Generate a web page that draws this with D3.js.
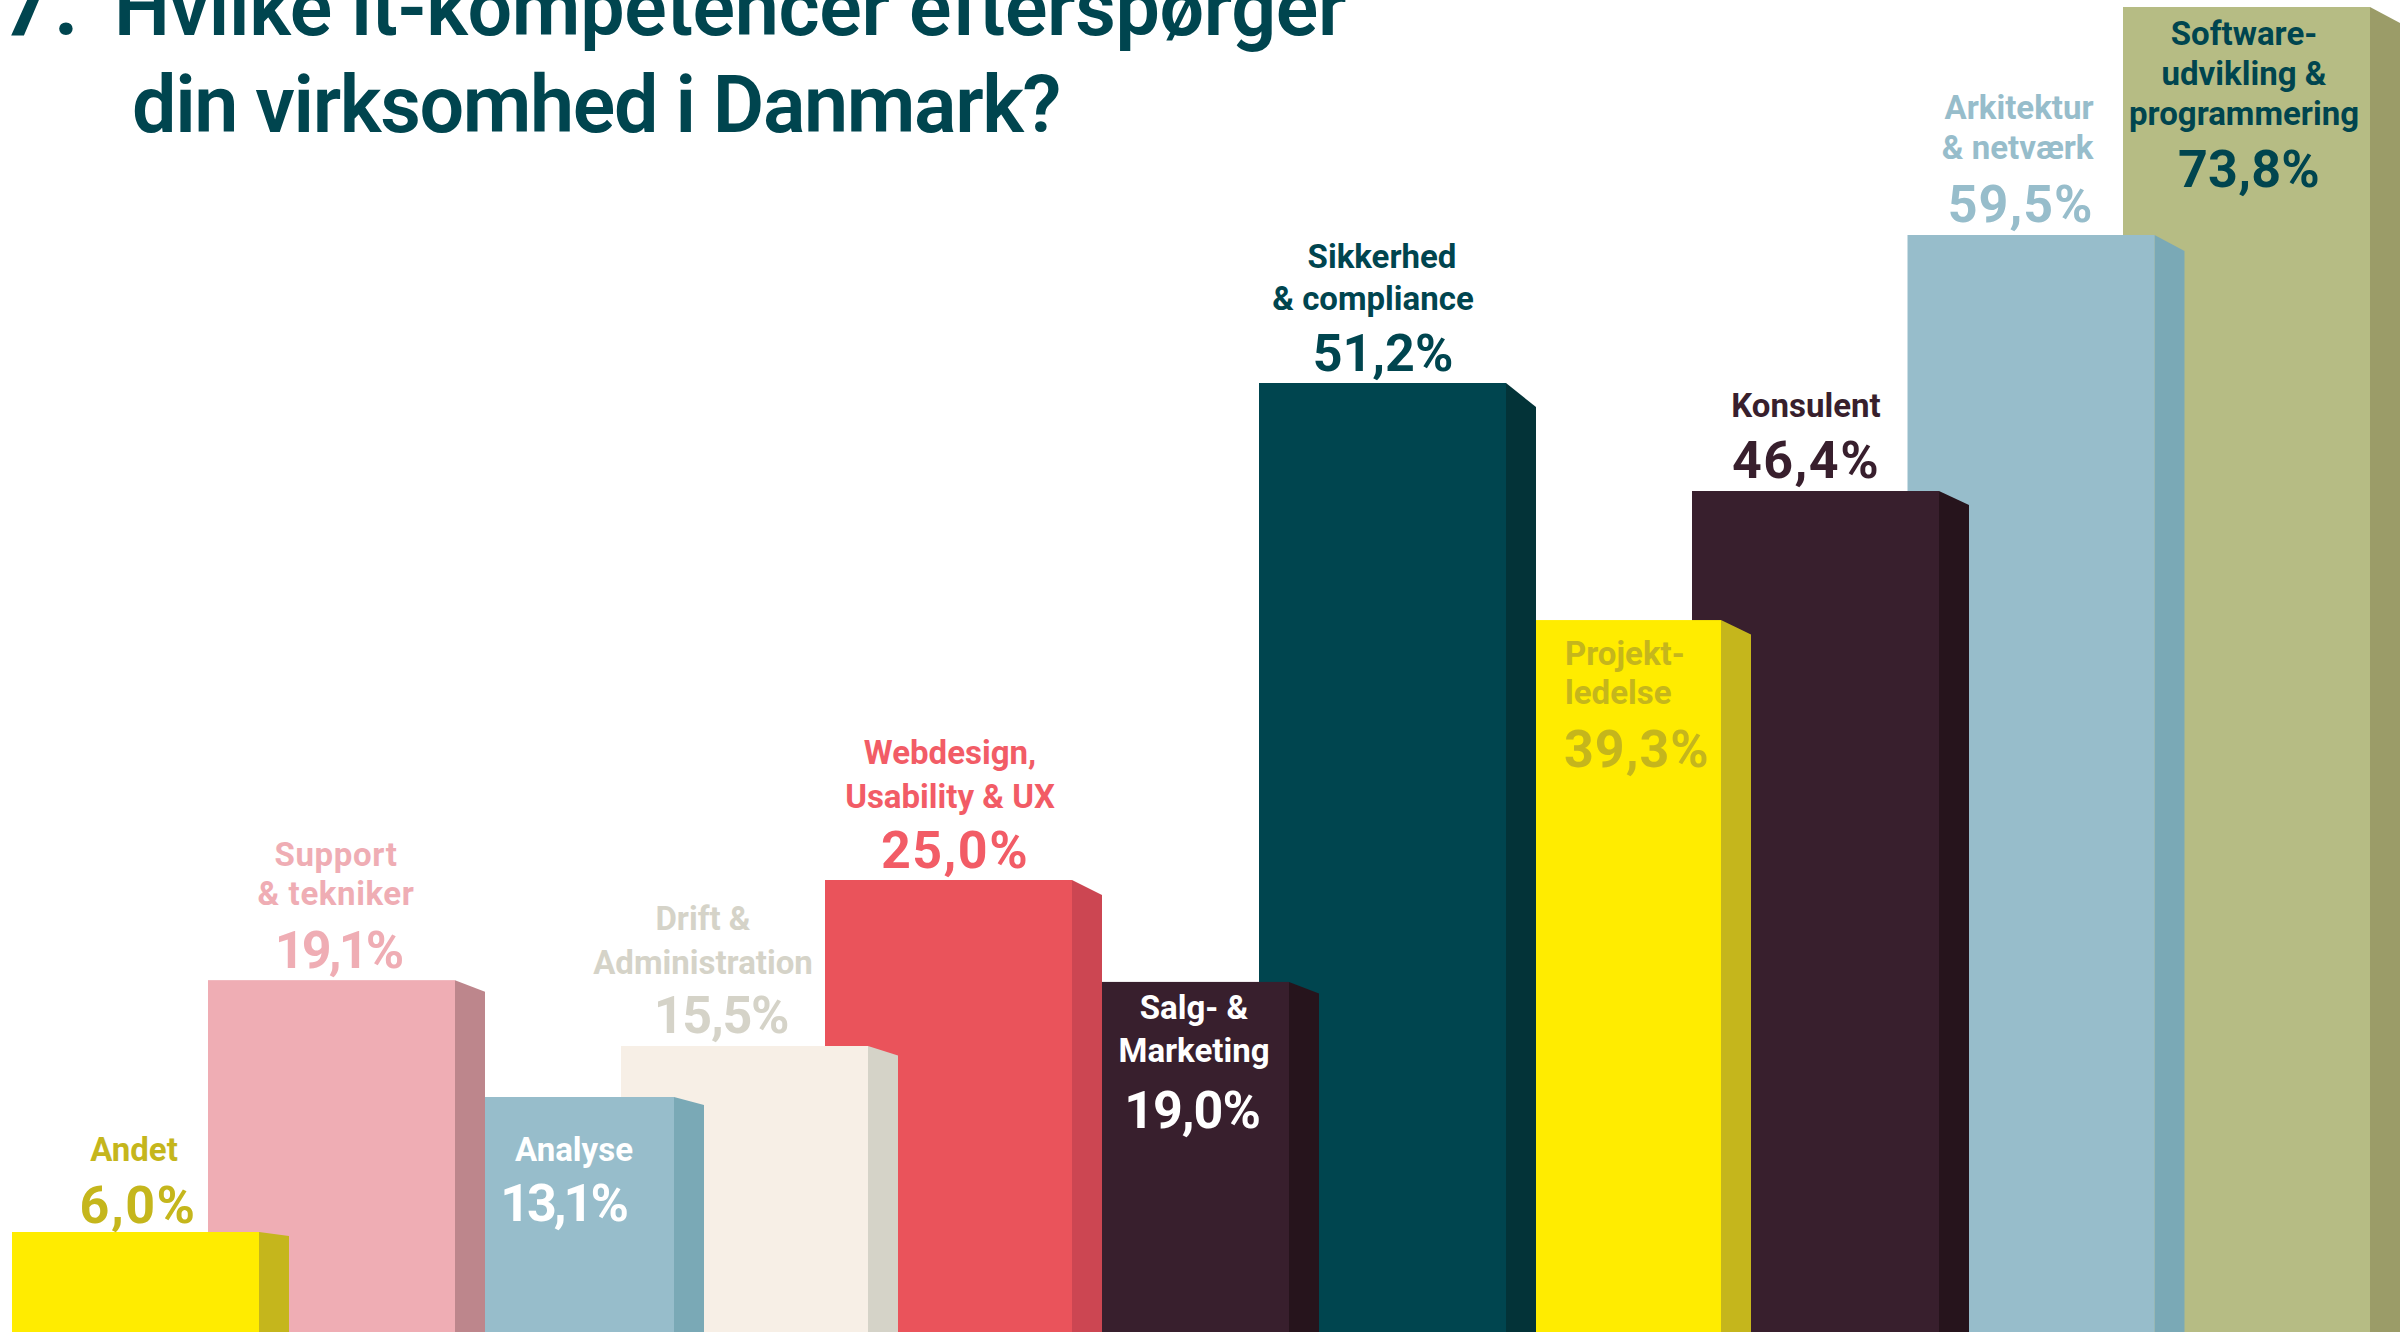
<!DOCTYPE html>
<html>
<head>
    <title>Hvilke it-kompetencer</title>
    <meta charset="utf-8">
    <script src="https://d3js.org/d3.v7.min.js"></script>
    <style>
        body { margin: 0; background: #fff; }
        svg { display: block; }
        text { font-family: Roboto, sans-serif; }
    </style>
</head>
<body>

    <div id="chart"></div>

    <script>

        // data, left to right
        var categories = ["Andet", "Support & tekniker", "Analyse", "Drift & Administration", "Webdesign, Usability & UX",
            "Salg- & Marketing", "Sikkerhed & compliance", "Projektledelse", "Konsulent", "Arkitektur & netværk",
            "Softwareudvikling & programmering"];
        var values = [6.0, 19.1, 13.1, 15.5, 25.0, 19.0, 51.2, 39.3, 46.4, 59.5, 73.8];
        var labelLines = [
            ["Andet"],
            ["Support", "& tekniker"],
            ["Analyse"],
            ["Drift &", "Administration"],
            ["Webdesign,", "Usability & UX"],
            ["Salg- &", "Marketing"],
            ["Sikkerhed", "& compliance"],
            ["Projekt-", "ledelse"],
            ["Konsulent"],
            ["Arkitektur", "& netværk"],
            ["Software-", "udvikling &", "programmering"]
        ];
        var titleNumber = "7.";
        var titleLines = ["Hvilke it-kompetencer efterspørger", "din virksomhed i Danmark?"];

        // colours
        var frontColors = ["#ffec00", "#efadb4", "#97bdcb", "#f7efe6", "#ea535b", "#381f2d", "#00454f", "#ffec00", "#381f2d", "#97bdcb", "#b6bc84"];
        var sideColors = ["#c5b61c", "#bd868c", "#7aa9b6", "#d5d3c8", "#cc4652", "#26141c", "#033338", "#c5b61c", "#26141c", "#7aa9b6", "#9b9c68"];
        var textColors = ["#c5b61c", "#efadb4", "#ffffff", "#d5d3c8", "#f25c66", "#ffffff", "#00454f", "#c5b61c", "#381f2d", "#97bdcb", "#00454f"];
        var titleColor = "#00454f";

        var width = 2407,
            height = 1332,
            barWidth = 247,
            barDepth = 30;

        var svg = d3.select("#chart")
            .append("svg")
            .attr("width", width)
            .attr("height", height);

        // bars overlap and are not evenly spaced at the left
        var x = d3.scaleLinear()
            .domain([0, 1, 2, 3, 4, 5, 6, 7, 8, 10])
            .range([12, 208, 427, 621, 825, 1042, 1259, 1474, 1692, 2123]);

        // the heights in the original are not proportional to the values, so this is piecewise
        var y = d3.scaleLinear()
            .domain([0, 6, 13.1, 15.5, 19.05, 25, 46.4, 51.2, 59.5, 73.8])
            .range([1346, 1232, 1097, 1046, 981, 880, 491, 383, 235, 7]);

        // how far the top of the side face drops
        var drop = d3.scaleLinear()
            .domain([6, 25, 46.4, 51.2, 59.5, 73.8])
            .range([4, 15, 14, 24, 16, 16]);

        var line = d3.line();

        var bars = values.map(function (v, i) {
            return { name: categories[i], value: v, index: i };
        });

        // later bars stand behind earlier ones, so draw them first
        var bar = svg.selectAll("g.bar")
            .data(bars.slice().reverse())
            .enter()
            .append("g")
            .attr("class", "bar");

        bar.append("path")
            .attr("fill", function (d) { return sideColors[d.index]; })
            .attr("d", function (d) {
                var x1 = x(d.index) + barWidth;
                var top = y(d.value);
                return line([[x1, top], [x1 + barDepth, top + drop(d.value)], [x1 + barDepth, y(0)], [x1, y(0)]]) + "Z";
            });

        bar.append("rect")
            .attr("fill", function (d) { return frontColors[d.index]; })
            .attr("x", function (d) { return x(d.index); })
            .attr("y", function (d) { return y(d.value); })
            .attr("width", barWidth)
            .attr("height", function (d) { return y(0) - y(d.value); });

        // text placement relative to each bar: line x, value x, first baseline, line step, value baseline, spacing
        var labelPos = [
            { lx: 122, vx: 126, ly: -71, step: 0, vy: -9, ls: 0, vs: 1.5, anchor: "middle" },
            { lx: 128, vx: 130, ly: -114, step: 39, vy: -12, ls: 0.6, vs: -2.8, anchor: "middle" },
            { lx: 147, vx: 136, ly: 64, step: 0, vy: 124, ls: 0, vs: -3, anchor: "middle" },
            { lx: 82, vx: 100, ly: -116, step: 44, vy: -13, ls: 0, vs: -1.2, anchor: "middle" },
            { lx: 125, vx: 130, ly: -116, step: 44, vy: -12, ls: 0, vs: 1.5, anchor: "middle" },
            { lx: 152, vx: 150, ly: 37, step: 43, vy: 146, ls: 0, vs: -1, anchor: "middle" },
            { lx: 114, vx: 124, ly: -115, step: 42, first: 9, vy: -12, ls: 0, vs: 0, anchor: "middle" },
            { lx: 91, vx: 90, ly: 45, step: 39, vy: 147, ls: 0, vs: 1, anchor: "start" },
            { lx: 114, vx: 114, ly: -74, step: 0, vy: -13, ls: 0, vs: 1.5, anchor: "middle" },
            { lx: 186, vx: 186, ly: -116, step: 40, vy: -13, ls: 0, vs: 1, anchor: "end" },
            { lx: 121, vx: 126, ly: 38, step: 40, vy: 180, ls: 0, vs: 0.3, anchor: "middle" }
        ];

        var formatValue = function (v) { return d3.format(".1f")(v).replace(".", ",") + "%"; };

        var labels = svg.selectAll("g.label")
            .data(bars)
            .enter()
            .append("g")
            .attr("class", "label")
            .attr("fill", function (d) { return textColors[d.index]; })
            .attr("font-weight", 700);

        labels.selectAll("text.name")
            .data(function (d) {
                var p = labelPos[d.index];
                return labelLines[d.index].map(function (t, k) {
                    return {
                        text: t,
                        x: x(d.index) + p.lx + (k == 0 && p.first ? p.first : 0),
                        y: y(d.value) + p.ly + k * p.step,
                        anchor: p.anchor,
                        spacing: p.ls
                    };
                });
            })
            .enter()
            .append("text")
            .attr("class", "name")
            .attr("x", function (d) { return d.x; })
            .attr("y", function (d) { return d.y; })
            .attr("text-anchor", function (d) { return d.anchor; })
            .attr("font-size", 33)
            .attr("letter-spacing", function (d) { return d.spacing; })
            .text(function (d) { return d.text; });

        labels.append("text")
            .attr("class", "value")
            .attr("x", function (d) { return x(d.index) + labelPos[d.index].vx; })
            .attr("y", function (d) { return y(d.value) + labelPos[d.index].vy; })
            .attr("text-anchor", function (d) { return labelPos[d.index].anchor; })
            .attr("font-size", 52)
            .attr("letter-spacing", function (d) { return labelPos[d.index].vs; })
            .text(function (d) { return formatValue(d.value); });

        // title, the top of the first line is cut off by the page edge
        svg.append("text")
            .attr("x", 3)
            .attr("y", 35)
            .attr("fill", titleColor)
            .attr("font-size", 79)
            .attr("font-weight", 800)
            .attr("letter-spacing", 6)
            .text(titleNumber);

        svg.selectAll("text.title")
            .data(titleLines)
            .enter()
            .append("text")
            .attr("class", "title")
            .attr("x", function (d, i) { return i == 0 ? 114 : 132; })
            .attr("y", function (d, i) { return i == 0 ? 35 : 132; })
            .attr("fill", titleColor)
            .attr("font-size", 79)
            .attr("font-weight", 600)
            .attr("letter-spacing", function (d, i) { return i == 0 ? -0.35 : -1.35; })
            .text(function (d) { return d; });

    </script>

</body>
</html>
